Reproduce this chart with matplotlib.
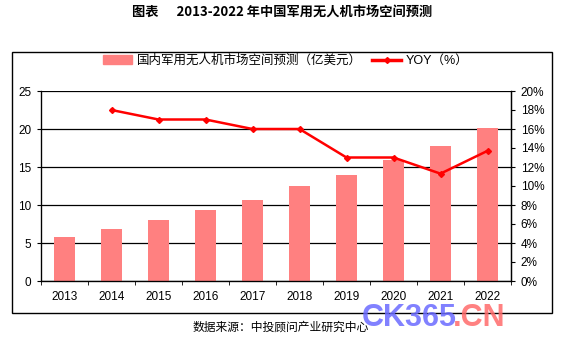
import matplotlib
matplotlib.use('Agg')
from matplotlib import pyplot as plt
from matplotlib.patches import Rectangle
from matplotlib.lines import Line2D
from matplotlib.ticker import FixedLocator, PercentFormatter
import numpy as np

plt.rcParams['font.family'] = ['Liberation Sans', 'Noto Sans CJK SC', 'DejaVu Sans']

years = ['2013', '2014', '2015', '2016', '2017', '2018', '2019', '2020', '2021', '2022']
market = [5.8, 6.8, 8.0, 9.3, 10.7, 12.5, 14.0, 15.9, 17.7, 20.1]
yoy_years = years[1:]
yoy = [18.0, 17.0, 17.0, 16.0, 16.0, 13.0, 13.0, 11.3, 13.7]

bar_label = '国内军用无人机市场空间预测（亿美元）'
line_label = 'YOY（%）'

fig = plt.figure(figsize=(5.68, 3.51), dpi=100)
fig.patch.set_facecolor('white')

# outer frame
fig.patches.append(Rectangle((12 / 568, 38 / 351), 540 / 568, 261 / 351, transform=fig.transFigure,
                             fill=False, edgecolor='black', linewidth=1.0))

ax = fig.add_axes([41 / 568, 70 / 351, 470 / 568, 190 / 351])
x = np.arange(len(years))
ax.bar(x, market, width=0.45, color='#FF8080', zorder=2)
ax.set_ylim(0, 25)
ax.set_xlim(-0.5, len(years) - 0.5)
ax.set_yticks([0, 5, 10, 15, 20, 25])
ax.yaxis.grid(True, color='black', linewidth=0.9, zorder=0)
ax.set_axisbelow(True)
ax.set_xticks(x)
ax.set_xticklabels(years)
ax.xaxis.set_minor_locator(FixedLocator(np.arange(-0.5, len(years), 1.0)))
ax.tick_params(axis='x', which='major', length=0, pad=7, labelsize=8.5)
ax.tick_params(axis='x', which='minor', length=3, direction='out', color='black')
ax.tick_params(axis='y', length=3, direction='out', labelsize=8.5, pad=4)
ax.spines['top'].set_visible(False)
for s in ['left', 'bottom', 'right']:
    ax.spines[s].set_color('black')
    ax.spines[s].set_linewidth(0.9)

ax2 = ax.twinx()
xi = [years.index(y) for y in yoy_years]
ax2.plot(xi, yoy, color='#FF0000', linewidth=1.8, marker='D', markersize=3, zorder=3)
ax2.set_ylim(0, 20)
ax2.set_yticks(np.arange(0, 21, 2))
ax2.yaxis.set_major_formatter(PercentFormatter(decimals=0))
ax2.tick_params(axis='y', length=3, direction='out', labelsize=8.5, pad=4)
ax2.spines['top'].set_visible(False)
ax2.spines['right'].set_linewidth(0.9)

handles = [Rectangle((0, 0), 1, 1, color='#FF8080'),
           Line2D([0], [0], color='#FF0000', linewidth=2.5, marker='D', markersize=3)]
fig.legend(handles, [bar_label, line_label], loc='center', bbox_to_anchor=(286 / 568, 1 - 61 / 351),
           ncol=2, frameon=False, fontsize=9, handlelength=2.3, handletextpad=0.4, columnspacing=0.8)

fig.text(282 / 568, 1 - 12 / 351, '图表      2013-2022 年中国军用无人机市场空间预测', ha='center', va='center',
         fontsize=9.5, fontweight='bold', family=['Noto Sans CJK SC', 'DejaVu Sans'])
fig.text(281 / 568, 1 - 327 / 351, '数据来源：中投顾问产业研究中心', ha='center', va='center',
         fontsize=8.5, family=['Noto Sans CJK SC', 'DejaVu Sans'])

# watermark
fig.text(362 / 568, 1 - 318 / 351, 'CK365', ha='left', va='center', fontsize=22, fontweight='bold',
         color='#6B6BFF', alpha=0.85)
fig.text(505 / 568, 1 - 318 / 351, '.CN', ha='right', va='center', fontsize=22, fontweight='bold',
         color='#FF6B6B', alpha=0.85)

fig.savefig('out.png', dpi=100)
